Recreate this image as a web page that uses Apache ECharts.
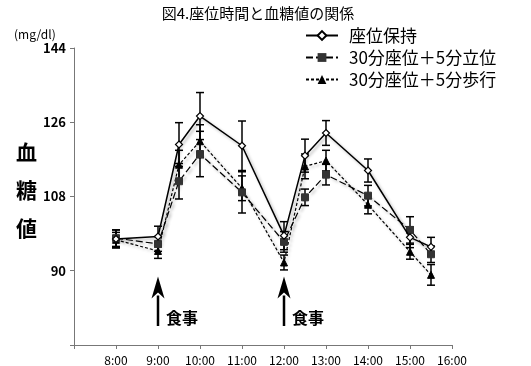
<!DOCTYPE html>
<html>
<head>
<meta charset="utf-8">
<script src="https://cdn.jsdelivr.net/npm/echarts@6/dist/echarts.min.js"></script>
<style>
  html, body { margin: 0; padding: 0; background: #fff; }
  #chart { width: 531px; height: 366px; }
</style>
</head>
<body>
<div id="chart"></div>
<script>
// 時刻 (時間単位)
const times = [8, 9, 9.5, 10, 11, 12, 12.5, 13, 14, 15, 15.5];

const names = ["座位保持", "30分座位＋5分立位", "30分座位＋5分歩行"];

const sitMean  = [97.7, 98.3, 120.6, 127.5, 120.3, 98.5, 117.9, 123.4, 114.3, 98.1, 95.8];
const sitErr   = [2.2, 2.5, 5.3, 5.7, 6.0, 3.4, 4.0, 3.0, 2.8, 2.5, 2.3];
const standMean = [97.9, 96.5, 111.7, 118.3, 109.0, 97.0, 107.8, 113.3, 108.2, 99.9, 94.0];
const standErr  = [2.0, 1.8, 4.3, 5.5, 5.0, 2.5, 2.0, 2.5, 2.5, 3.2, 2.0];
const walkMean = [97.5, 94.8, 115.7, 121.4, 110.0, 92.0, 115.3, 116.7, 106.0, 94.6, 89.0];
const walkErr  = [1.8, 1.8, 3.5, 4.0, 3.0, 1.8, 3.0, 2.5, 2.2, 1.8, 2.5];

const yTicks = [72, 90, 108, 126, 144];
const meals = [9, 12];

const chart = echarts.init(document.getElementById("chart"));

const font = '"Noto Sans CJK JP", "Noto Sans", sans-serif';
const shadow = {
  shadowColor: "rgba(0,0,0,0.3)",
  shadowBlur: 3,
  shadowOffsetX: 2,
  shadowOffsetY: 2,
};

const pairs = (means) => times.map((t, i) => [t, means[i]]);
const errData = (means, errs) => times.map((t, i) => [t, means[i], errs[i]]);

const renderErr = (params, api) => {
  const x = api.value(0);
  const m = api.value(1);
  const e = api.value(2);
  const top = api.coord([x, m + e]);
  const bot = api.coord([x, m - e]);
  const cap = 4;
  const style = { stroke: "#000", lineWidth: 1.5 };
  return {
    type: "group",
    children: [
      { type: "line", shape: { x1: top[0], y1: top[1], x2: bot[0], y2: bot[1] }, style },
      { type: "line", shape: { x1: top[0] - cap, y1: top[1], x2: top[0] + cap, y2: top[1] }, style },
      { type: "line", shape: { x1: bot[0] - cap, y1: bot[1], x2: bot[0] + cap, y2: bot[1] }, style },
    ],
  };
};

const renderMeal = (params, api) => {
  const x = api.value(0);
  const tip = api.coord([x, 88.6]);
  const base = api.coord([x, 84.0]);
  const end = api.coord([x, 76.6]);
  const mid = api.coord([x, 78.5]);
  return {
    type: "group",
    children: [
      { type: "line", shape: { x1: base[0], y1: base[1], x2: end[0], y2: end[1] },
        style: { stroke: "#000", lineWidth: 2.5 } },
      { type: "polygon",
        shape: { points: [[tip[0], tip[1]], [tip[0] - 6.5, base[1] + 3], [tip[0], base[1] - 3], [tip[0] + 6.5, base[1] + 3]] },
        style: { fill: "#000" } },
      { type: "text", x: mid[0] + 8, y: mid[1],
        style: { text: "食事", fill: "#000", font: "bold 16px " + font, textVerticalAlign: "middle" } },
    ],
  };
};

const option = {
  animation: false,
  backgroundColor: "#fff",
  textStyle: { fontFamily: font },
  title: {
    text: "図4.座位時間と血糖値の関係",
    left: 253,
    top: 1,
    textAlign: "center",
    textStyle: { fontSize: 15, fontWeight: "normal", color: "#000", fontFamily: font },
  },
  legend: {
    data: names,
    orient: "vertical",
    left: 300,
    top: 22,
    itemWidth: 32,
    itemHeight: 11,
    itemGap: 5,
    textStyle: { fontSize: 17, color: "#000", fontFamily: font, padding: [0, 0, 0, 6] },
  },
  grid: { left: 74, right: 79, top: 48, bottom: 21 },
  xAxis: {
    type: "value",
    min: 7,
    max: 16,
    interval: 1,
    splitLine: { show: false },
    axisLine: { lineStyle: { color: "#777" } },
    axisTick: { length: 4, lineStyle: { color: "#777" } },
    axisLabel: {
      color: "#000",
      fontSize: 12,
      margin: 9,
      formatter: (v) => (v === 7 ? "" : v + ":00"),
    },
  },
  yAxis: {
    type: "value",
    min: yTicks[0],
    max: yTicks[yTicks.length - 1],
    interval: 18,
    splitLine: { show: false },
    axisLine: { show: true, lineStyle: { color: "#777" } },
    axisTick: { show: true, length: 4, lineStyle: { color: "#777" } },
    axisLabel: {
      color: "#000",
      fontSize: 13,
      fontWeight: "bold",
      margin: 8,
      formatter: (v) => (v === yTicks[0] ? "" : String(v)),
    },
  },
  graphic: [
    { type: "text", left: 14, top: 28,
      style: { text: "(mg/dl)", fill: "#000", font: "12px " + font } },
    { type: "text", left: 16, top: 133,
      style: { text: "血\n糖\n値", fill: "#000", font: "bold 21px " + font, lineHeight: 38 } },
  ],
  series: [
    { name: "err-walk", type: "custom", renderItem: renderErr, data: errData(walkMean, walkErr), z: 1 },
    { name: "err-stand", type: "custom", renderItem: renderErr, data: errData(standMean, standErr), z: 1 },
    { name: "err-sit", type: "custom", renderItem: renderErr, data: errData(sitMean, sitErr), z: 1 },
    {
      name: names[2], type: "line", data: pairs(walkMean),
      symbol: "triangle", symbolSize: 7,
      lineStyle: Object.assign({ color: "#000", width: 1.2, type: [3, 2] }, shadow),
      itemStyle: { color: "#000", borderColor: "#000" },
      z: 3,
    },
    {
      name: names[1], type: "line", data: pairs(standMean),
      symbol: "rect", symbolSize: 7,
      lineStyle: Object.assign({ color: "#000", width: 1.2, type: [7, 3] }, shadow),
      itemStyle: { color: "#333", borderColor: "#333" },
      z: 3,
    },
    {
      name: names[0], type: "line", data: pairs(sitMean),
      symbol: "diamond", symbolSize: 7,
      lineStyle: Object.assign({ color: "#000", width: 1.5 }, shadow),
      itemStyle: { color: "#fff", borderColor: "#000", borderWidth: 1.2 },
      z: 4,
    },
    { name: "meal", type: "custom", renderItem: renderMeal, data: meals.map((m) => [m]), z: 5 },
  ],
};

chart.setOption(option);
</script>
</body>
</html>
